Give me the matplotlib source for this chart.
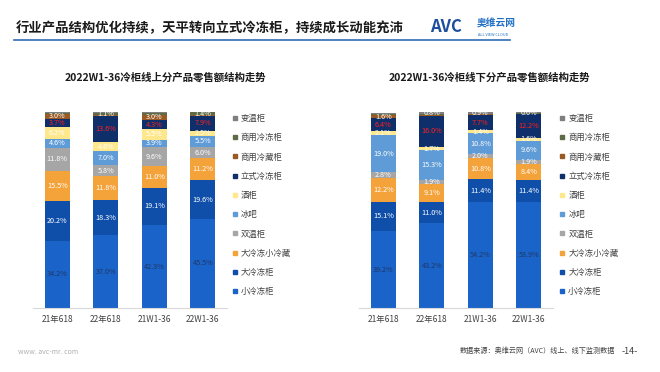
import matplotlib.pyplot as plt
from matplotlib.lines import Line2D

plt.rcParams['font.family'] = ['Noto Sans CJK SC', 'DejaVu Sans']

categories = ['21年618', '22年618', '21W1-36', '22W1-36']
# bottom to top of each stack
series = ['小冷冻柜', '大冷冻柜', '大冷冻小冷藏', '双温柜', '冰吧', '酒柜',
          '立式冷冻柜', '商用冷藏柜', '商用冷冻柜', '变温柜']
colors = ['#1A63C9', '#0F4FAA', '#F4A23A', '#A6A6A6', '#5F9BD6', '#FFE78C',
          '#0E2F6A', '#9A5A24', '#5E6B45', '#7F7F7F']
label_colors = ['#1F3864', 'white', 'white', 'white', 'white', 'white',
                '#FF2020', 'white', 'white', 'white']

# online shares (%) per series, one value per category
online = {
    '小冷冻柜':   [34.2, 37.0, 42.3, 45.5],
    '大冷冻柜':   [20.2, 18.3, 19.1, 19.6],
    '大冷冻小冷藏': [15.5, 11.8, 11.0, 11.2],
    '双温柜':     [11.8, 5.8, 9.6, 6.0],
    '冰吧':       [4.6, 7.0, 3.9, 5.5],
    '酒柜':       [6.2, 4.6, 5.5, 2.5],
    '立式冷冻柜': [3.7, 13.6, 4.3, 7.9],
    '商用冷藏柜': [3.0, 0.5, 3.0, 0.2],
    '商用冷冻柜': [0.3, 1.1, 0.8, 1.4],
    '变温柜':     [0.5, 0.3, 0.5, 0.2],
}
# offline shares (%)
offline = {
    '小冷冻柜':   [39.2, 43.2, 54.2, 53.9],
    '大冷冻柜':   [15.1, 11.0, 11.4, 11.4],
    '大冷冻小冷藏': [12.2, 9.1, 10.8, 8.4],
    '双温柜':     [2.8, 1.9, 2.0, 1.9],
    '冰吧':       [19.0, 15.3, 10.8, 9.6],
    '酒柜':       [2.1, 1.7, 1.4, 1.6],
    '立式冷冻柜': [6.4, 16.0, 7.7, 12.2],
    '商用冷藏柜': [1.6, 0.5, 0.5, 0.2],
    '商用冷冻柜': [0.5, 0.5, 0.3, 0.2],
    '变温柜':     [0.5, 0.8, 0.9, 0.6],
}

fig = plt.figure(figsize=(6.6, 3.72), dpi=100)
fig.patch.set_facecolor('white')


def draw_stack(ax, data):
    x = list(range(len(categories)))
    bottom = [0.0] * len(categories)
    for i, s in enumerate(series):
        vals = data[s]
        ax.bar(x, vals, 0.52, bottom=bottom, color=colors[i], linewidth=0)
        for j, v in enumerate(vals):
            if v >= 0.6:
                yy = bottom[j] + v / 2
                fs = 5.2
                # thin top segment: lift its label to the bar's top edge
                if s == '商用冷冻柜' and v < 1.0:
                    yy += 2.4
                    fs = 4.6
                ax.text(x[j], yy, f'{v:.1f}%', ha='center',
                        va='center', fontsize=fs, color=label_colors[i],
                        clip_on=False)
        bottom = [b + v for b, v in zip(bottom, vals)]
    ax.set_xlim(-0.5, 3.5)
    ax.set_ylim(0, 100)
    ax.set_xticks(x)
    ax.set_xticklabels(categories, fontsize=6, color='#404040')
    ax.tick_params(axis='x', length=0, pad=5)
    ax.set_yticks([])
    for sp in ['top', 'left', 'right']:
        ax.spines[sp].set_visible(False)
    ax.spines['bottom'].set_color('#D9D9D9')
    ax.spines['bottom'].set_linewidth(0.8)


ax1 = fig.add_axes([0.05, 0.172, 0.294, 0.527])
draw_stack(ax1, online)
ax2 = fig.add_axes([0.544, 0.172, 0.294, 0.527])
draw_stack(ax2, offline)

handles = [Line2D([], [], marker='s', linestyle='', color=c, markersize=2.8)
           for c in colors][::-1]
for xl in [0.346, 0.842]:
    fig.legend(handles, series[::-1], loc='upper left',
               bbox_to_anchor=(xl, 0.705), frameon=False, fontsize=6,
               labelspacing=1.23, handlelength=0.6, handletextpad=0.4,
               borderpad=0, labelcolor='#404040')

# header
fig.text(0.024, 0.925, '行业产品结构优化持续，天平转向立式冷冻柜，持续成长动能充沛',
         fontsize=9.6, fontweight='bold', color='#1a1a1a', va='center')
fig.add_artist(Line2D([0.021, 0.773], [0.892, 0.892], color='#2E6DB4',
                      linewidth=1.2, transform=fig.transFigure))
fig.text(0.652, 0.928, 'AVC', fontsize=12, fontweight='bold', style='italic',
         color='#1F4E9D', va='center')
fig.text(0.722, 0.937, '奥维云网', fontsize=7, fontweight='bold',
         color='#1F6FC5', va='center')
fig.text(0.724, 0.907, 'ALL VIEW CLOUD', fontsize=2.8, color='#1F6FC5',
         va='center')

fig.text(0.25, 0.793, '2022W1-36冷柜线上分产品零售额结构走势', fontsize=7.5,
         fontweight='bold', ha='center', va='center', color='#1a1a1a')
fig.text(0.742, 0.793, '2022W1-36冷柜线下分产品零售额结构走势', fontsize=7.5,
         fontweight='bold', ha='center', va='center', color='#1a1a1a')

# footer
fig.text(0.027, 0.054, 'www. avc-mr. com', fontsize=5, color='#B0B0B0',
         va='center')
fig.text(0.697, 0.056, '数据来源：奥维云网（AVC）线上、线下监测数据', fontsize=5.1,
         color='#404040', va='center')
fig.text(0.942, 0.056, '-14-', fontsize=6.5, color='#404040', va='center')

fig.savefig('out.png', dpi=100)
